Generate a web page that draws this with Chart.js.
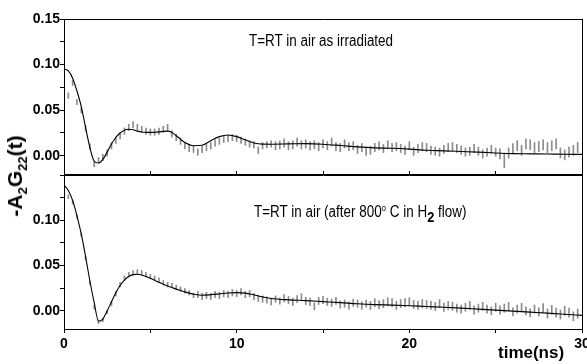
<!DOCTYPE html>
<html>
<head>
<meta charset="utf-8">
<script src="https://cdn.jsdelivr.net/npm/chart.js@4.4.1/dist/chart.umd.min.js"></script>
<style>
  body { margin: 0; background: #fff; }
  #wrap { position: relative; width: 587px; height: 364px; overflow: hidden; background: #fff; }
  canvas { position: absolute; left: 0; }
  #topChart { top: 0; }
  #bottomChart { top: 160px; }
  .note { position: absolute; white-space: nowrap; font-family: 'Liberation Sans', Arial, sans-serif; font-size: 16px; line-height: 16px; color: #000; transform: scaleX(0.84); transform-origin: 0 0; }
  .sup { font-size: 0.6em; position: relative; top: -0.6em; }
  .sub2 { font-size: 0.95em; font-weight: bold; position: relative; top: 0.3em; }
  #ytitle { position: absolute; left: 16px; top: 176px; transform: translate(-50%, -50%) rotate(-90deg); font: bold 21px 'Liberation Sans', Arial, sans-serif; line-height: 21px; white-space: nowrap; color: #000; }
  #ytitle .s { font-size: 0.62em; position: relative; top: 0.35em; }
  #xtitle { position: absolute; left: 498px; top: 344px; font: bold 17px 'Liberation Sans', Arial, sans-serif; line-height: 17px; white-space: nowrap; color: #000; }
</style>
</head>
<body>
<div id="wrap">
  <canvas id="bottomChart" width="587" height="204"></canvas>
  <canvas id="topChart" width="587" height="180"></canvas>
  <div class="note" style="left:249px; top:33px;">T=RT in air as irradiated</div>
  <div class="note" style="left:254px; top:204px;">T=RT in air (after 800<span class="sup">o</span> C in H<span class="sub2">2</span> flow)</div>
  <div id="ytitle">-A<span class="s">2</span>G<span class="s">22</span>(t)</div>
  <div id="xtitle">time(ns)</div>
</div>
<script>
// time channels (ns)
const times = [
  0.25, 0.5, 0.75, 1, 1.25, 1.5, 1.75, 2, 2.25, 2.5,
  2.75, 3, 3.25, 3.5, 3.75, 4, 4.25, 4.5, 4.75, 5,
  5.25, 5.5, 5.75, 6, 6.25, 6.5, 6.75, 7, 7.25, 7.5,
  7.75, 8, 8.25, 8.5, 8.75, 9, 9.25, 9.5, 9.75, 10,
  10.25, 10.5, 10.75, 11, 11.25, 11.5, 11.75, 12, 12.25, 12.5,
  12.75, 13, 13.25, 13.5, 13.75, 14, 14.25, 14.5, 14.75, 15,
  15.25, 15.5, 15.75, 16, 16.25, 16.5, 16.75, 17, 17.25, 17.5,
  17.75, 18, 18.25, 18.5, 18.75, 19, 19.25, 19.5, 19.75, 20,
  20.25, 20.5, 20.75, 21, 21.25, 21.5, 21.75, 22, 22.25, 22.5,
  22.75, 23, 23.25, 23.5, 23.75, 24, 24.25, 24.5, 24.75, 25,
  25.25, 25.5, 25.75, 26, 26.25, 26.5, 26.75, 27, 27.25, 27.5,
  27.75, 28, 28.25, 28.5, 28.75, 29, 29.25, 29.5, 29.75
];

// top panel: as irradiated
const topValues = [
  0.066, 0.080, 0.059, 0.050, 0.030, 0.010, -0.009, -0.005, -0.002, 0.003,
  0.011, 0.017, 0.022, 0.027, 0.031, 0.034, 0.031, 0.029, 0.027, 0.026,
  0.026, 0.027, 0.029, 0.031, 0.024, 0.020, 0.016, 0.011, 0.008, 0.007,
  0.004, 0.007, 0.009, 0.011, 0.014, 0.016, 0.018, 0.019, 0.020, 0.019,
  0.017, 0.015, 0.013, 0.012, 0.006, 0.011, 0.012, 0.013, 0.011, 0.012,
  0.014, 0.011, 0.012, 0.015, 0.012, 0.013, 0.011, 0.012, 0.010, 0.013,
  0.011, 0.015, 0.010, 0.009, 0.013, 0.010, 0.011, 0.007, 0.009, 0.005,
  0.006, 0.009, 0.011, 0.008, 0.012, 0.009, 0.010, 0.008, 0.006, 0.011,
  0.005, 0.008, 0.010, 0.009, 0.006, 0.005, 0.004, 0.007, 0.009, 0.010,
  0.008, 0.006, 0.004, 0.005, 0.008, 0.005, 0.002, 0.004, 0.007, 0.004,
  0.002, -0.005, 0.003, 0.008, 0.011, 0.006, 0.013, 0.012, 0.009, 0.010,
  0.012, 0.009, 0.011, 0.013, 0.003, 0.001, 0.004, 0.006, 0.009
];
const topErrors = [
  0.003, 0.003, 0.003, 0.003, 0.003, 0.003, 0.003, 0.003, 0.0035, 0.0035,
  0.0035, 0.0035, 0.0035, 0.0035, 0.0035, 0.0035, 0.0035, 0.0035, 0.0035, 0.0035,
  0.0035, 0.0035, 0.0035, 0.0035, 0.0035, 0.0035, 0.0035, 0.0035, 0.0035, 0.0035,
  0.0035, 0.0035, 0.0035, 0.0035, 0.0035, 0.0035, 0.0035, 0.0035, 0.0035, 0.0035,
  0.0035, 0.0035, 0.0035, 0.0035, 0.0035, 0.0035, 0.0035, 0.0035, 0.0045, 0.0045,
  0.0045, 0.0045, 0.0045, 0.0045, 0.0045, 0.0045, 0.0045, 0.0045, 0.0045, 0.0045,
  0.0045, 0.0045, 0.0045, 0.0045, 0.0045, 0.0045, 0.0045, 0.0045, 0.0045, 0.0045,
  0.0045, 0.0045, 0.0045, 0.0045, 0.0045, 0.0045, 0.0045, 0.0045, 0.0045, 0.0045,
  0.0045, 0.0045, 0.0045, 0.0045, 0.0045, 0.0045, 0.0045, 0.0045, 0.0045, 0.0045,
  0.0045, 0.0045, 0.0045, 0.0045, 0.0045, 0.0045, 0.0045, 0.0045, 0.0045, 0.0045,
  0.0055, 0.008, 0.0055, 0.0055, 0.0055, 0.0055, 0.0055, 0.0055, 0.0055, 0.0055,
  0.0055, 0.0055, 0.0055, 0.0055, 0.0055, 0.0055, 0.0055, 0.0055, 0.0055
];

// bottom panel: after 800 C in H2 flow
const bottomValues = [
  0.126, 0.120, 0.104, 0.084, 0.058, 0.031, 0.004, -0.012, -0.010, -0.001,
  0.008, 0.019, 0.029, 0.036, 0.040, 0.042, 0.043, 0.042, 0.040, 0.038,
  0.036, 0.034, 0.031, 0.029, 0.028, 0.026, 0.024, 0.022, 0.020, 0.017,
  0.018, 0.016, 0.017, 0.016, 0.018, 0.017, 0.019, 0.018, 0.020, 0.019,
  0.021, 0.018, 0.019, 0.016, 0.014, 0.013, 0.012, 0.010, 0.013, 0.011,
  0.014, 0.012, 0.010, 0.013, 0.015, 0.011, 0.010, 0.005, 0.011, 0.012,
  0.010, 0.009, 0.011, 0.007, 0.008, 0.006, 0.009, 0.008, 0.006, 0.008,
  0.006, 0.009, 0.007, 0.008, 0.010, 0.009, 0.006, 0.008, 0.009, 0.010,
  0.007, 0.006, 0.008, 0.007, 0.006, 0.005, 0.008, 0.004, 0.006, 0.005,
  0.003, 0.002, 0.004, 0.006, 0.001, 0.003, 0.005, 0.002, 0.000, 0.004,
  0.001, 0.003, 0.005, -0.001, 0.002, 0.004, 0.000, -0.002, 0.002, -0.001,
  0.003, -0.003, 0.001, -0.002, -0.004, 0.000, -0.002, -0.006, -0.003
];
const bottomErrors = [
  0.002, 0.002, 0.002, 0.002, 0.002, 0.002, 0.002, 0.002, 0.002, 0.002,
  0.0025, 0.0025, 0.0025, 0.0025, 0.0025, 0.0025, 0.0025, 0.0025, 0.0025, 0.0025,
  0.0025, 0.0025, 0.0025, 0.0025, 0.0025, 0.0025, 0.0025, 0.0025, 0.0025, 0.0025,
  0.0035, 0.0035, 0.0035, 0.0035, 0.0035, 0.0035, 0.0035, 0.0035, 0.0035, 0.0035,
  0.0035, 0.0035, 0.0035, 0.0035, 0.0035, 0.0035, 0.0035, 0.0035, 0.0035, 0.0035,
  0.004, 0.004, 0.004, 0.004, 0.004, 0.004, 0.004, 0.004, 0.004, 0.004,
  0.004, 0.004, 0.004, 0.004, 0.004, 0.004, 0.004, 0.004, 0.004, 0.004,
  0.0045, 0.0045, 0.0045, 0.0045, 0.0045, 0.0045, 0.0045, 0.0045, 0.0045, 0.0045,
  0.0045, 0.0045, 0.0045, 0.0045, 0.0045, 0.0045, 0.0045, 0.0045, 0.0045, 0.0045,
  0.0045, 0.0045, 0.0045, 0.0045, 0.0045, 0.0045, 0.0045, 0.0045, 0.0045, 0.0045,
  0.0045, 0.0045, 0.0045, 0.0045, 0.0045, 0.0045, 0.0045, 0.0045, 0.0045, 0.0045,
  0.005, 0.005, 0.005, 0.005, 0.005, 0.005, 0.005, 0.005, 0.005
];

// fitted curves
const fitTimes = [
  0, 0.25, 0.5, 0.75, 1, 1.25, 1.5, 1.75, 2, 2.25, 2.5, 2.75, 3, 3.25, 3.5,
  3.75, 4, 4.25, 4.5, 4.75, 5, 5.25, 5.5, 5.75, 6, 6.25, 6.5, 6.75, 7,
  7.5, 8, 8.5, 9, 9.5, 10, 10.5, 11, 11.5, 12,
  13, 14, 15, 16, 17, 18, 19, 20, 21, 22, 23, 24, 25, 26, 27, 28, 29, 30
];
const topFit = [
  0.095, 0.093, 0.085, 0.071, 0.054, 0.031, 0.009, -0.006, -0.008, -0.004, 0.004, 0.013, 0.020, 0.025, 0.028,
  0.029, 0.0285, 0.027, 0.026, 0.0257, 0.0256, 0.0258, 0.0262, 0.0268, 0.027, 0.0255, 0.022, 0.018, 0.0145,
  0.011, 0.0115, 0.0165, 0.021, 0.0227, 0.021, 0.0175, 0.014, 0.0128, 0.0127,
  0.013, 0.0133, 0.0127, 0.0113, 0.0097, 0.0086, 0.0082, 0.0073, 0.006, 0.0054, 0.0047, 0.004, 0.003, 0.0023, 0.0021, 0.0019, 0.0016, 0.0015
];
const bottomFit = [
  0.139, 0.133, 0.122, 0.105, 0.085, 0.060, 0.033, 0.009, -0.0115, -0.009, 0.000, 0.010, 0.020, 0.028, 0.034,
  0.038, 0.040, 0.0405, 0.0397, 0.038, 0.036, 0.0338, 0.0315, 0.0294, 0.0274, 0.0257, 0.024, 0.0225, 0.021,
  0.0185, 0.0172, 0.0178, 0.0188, 0.0198, 0.0202, 0.0196, 0.0176, 0.0155, 0.0137,
  0.0122, 0.0113, 0.0102, 0.0091, 0.0078, 0.0069, 0.0064, 0.0057, 0.0048, 0.004, 0.003, 0.0019, 0.0008, -0.0003, -0.0014, -0.0025, -0.0037, -0.005
];

// axes
const xTicks = [0, 5, 10, 15, 20, 25, 30];
const xLabels = [0, 10, 20, 30];
const yTicks = [0, 0.025, 0.05, 0.075, 0.1, 0.125, 0.15];
const topYLabels = [0, 0.05, 0.1, 0.15];
const bottomYLabels = [0, 0.05, 0.1];

const tickFont = { family: "'Liberation Sans', Arial, sans-serif", size: 14, weight: 'bold' };

function hasLabel(list, v) {
  return list.some(l => Math.abs(l - v) < 1e-9);
}

// plain frame edge (top panel's top/bottom)
function sideAxis(pos, size) {
  return {
    type: 'linear', position: pos, min: 0, max: 30, offset: false,
    ticks: { display: false },
    grid: { display: false, offset: false },
    border: { display: true, color: '#000', width: 1 },
    afterFit: s => { s.height = size; s.paddingLeft = 0; s.paddingRight = 0; }
  };
}

function makePanel(id, values, errors, fit, yLabels, bottom) {
  const bars = times.map((t, i) => ({ x: t, y: [values[i] - errors[i], values[i] + errors[i]] }));
  const line = fitTimes.map((t, i) => ({ x: t, y: fit[i] }));

  const scales = {
    y: {
      type: 'linear', position: 'left', min: -0.02, max: 0.15,
      afterBuildTicks: s => { s.ticks = yTicks.map(v => ({ value: v })); },
      ticks: {
        color: '#000', font: tickFont, padding: 0,
        callback: v => hasLabel(yLabels, v) ? v.toFixed(2) : ''
      },
      grid: { drawOnChartArea: false, drawTicks: true, tickLength: 4, color: '#000' },
      border: { display: true, color: '#000', width: 1 },
      afterFit: s => { s.width = 64; s.paddingTop = 0; s.paddingBottom = 0; }
    },
    yRight: {
      type: 'linear', position: 'right', min: -0.02, max: 0.15,
      ticks: { display: false },
      grid: { display: false },
      border: { display: true, color: '#000', width: 1 },
      afterFit: s => { s.width = 5; s.paddingTop = 0; s.paddingBottom = 0; }
    }
  };

  if (bottom) {
    scales.x = {
      type: 'linear', position: 'bottom', min: 0, max: 30, offset: false,
      afterBuildTicks: s => { s.ticks = xTicks.map(v => ({ value: v })); },
      ticks: {
        color: '#000', font: tickFont, padding: 3, autoSkip: false, maxRotation: 0,
        callback: v => hasLabel(xLabels, v) ? String(v) : ''
      },
      grid: { drawOnChartArea: false, drawTicks: true, tickLength: 4, color: '#000', offset: false },
      border: { display: true, color: '#000', width: 1 },
      afterFit: s => { s.height = 35; s.paddingLeft = 0; s.paddingRight = 0; }
    };
    scales.xTop = {
      type: 'linear', position: 'top', min: 0, max: 30, offset: false,
      afterBuildTicks: s => { s.ticks = xTicks.map(v => ({ value: v })); },
      ticks: { display: false },
      grid: { drawOnChartArea: false, drawTicks: true, tickLength: 4, color: '#000', offset: false },
      border: { display: true, color: '#000', width: 1 },
      afterFit: s => { s.height = 15; s.paddingLeft = 0; s.paddingRight = 0; }
    };
  } else {
    scales.x = sideAxis('bottom', 6);
    scales.xTop = sideAxis('top', 19);
  }

  return new Chart(document.getElementById(id), {
    type: 'bar',
    data: {
      datasets: [
        {
          type: 'line',
          data: line,
          borderColor: '#000',
          borderWidth: 1.1,
          pointRadius: 0,
          cubicInterpolationMode: 'monotone',
          fill: false,
          order: 0
        },
        {
          type: 'bar',
          data: bars,
          backgroundColor: '#8c8c8c',
          borderWidth: 0,
          barThickness: 1,
          grouped: false,
          order: 1
        }
      ]
    },
    options: {
      responsive: false,
      animation: false,
      events: [],
      layout: { padding: 0 },
      plugins: { legend: { display: false }, tooltip: { enabled: false } },
      scales: scales
    }
  });
}

makePanel('topChart', topValues, topErrors, topFit, topYLabels, false);
makePanel('bottomChart', bottomValues, bottomErrors, bottomFit, bottomYLabels, true);
</script>
</body>
</html>
